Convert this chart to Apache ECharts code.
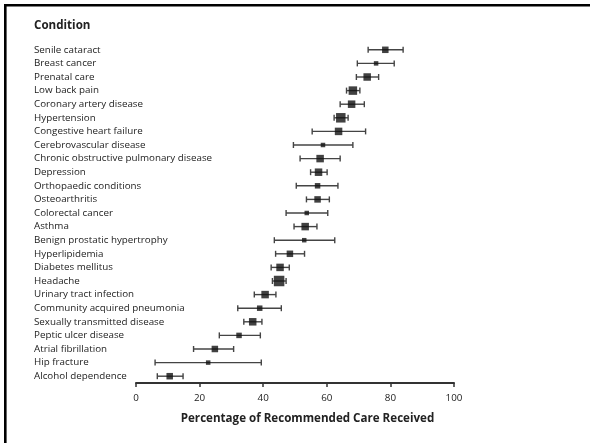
<!DOCTYPE html>
<html>
<head>
<meta charset="utf-8">
<script src="https://cdn.jsdelivr.net/npm/echarts@6/dist/echarts.min.js"></script>
<style>
  html, body { margin: 0; padding: 0; background: #fff; }
  #chart { width: 590px; height: 443px; }
</style>
</head>
<body>
<div id="chart"></div>
<script>
// ---- data ----
const categories = [
  "Senile cataract", "Breast cancer", "Prenatal care", "Low back pain",
  "Coronary artery disease", "Hypertension", "Congestive heart failure",
  "Cerebrovascular disease", "Chronic obstructive pulmonary disease", "Depression",
  "Orthopaedic conditions", "Osteoarthritis", "Colorectal cancer", "Asthma",
  "Benign prostatic hypertrophy", "Hyperlipidemia", "Diabetes mellitus", "Headache",
  "Urinary tract infection", "Community acquired pneumonia", "Sexually transmitted disease",
  "Peptic ulcer disease", "Atrial fibrillation", "Hip fracture", "Alcohol dependence"
];
const pointValues = [78.4, 75.5, 72.7, 68.2, 67.8, 64.4, 63.7, 58.8, 57.9, 57.4,
                     57.1, 57.1, 53.7, 53.2, 52.9, 48.4, 45.3, 45.0, 40.6, 38.9,
                     36.7, 32.4, 24.8, 22.7, 10.6];
const lowerValues = [73.0, 69.6, 69.3, 66.2, 64.2, 62.3, 55.4, 49.5, 51.6, 54.9,
                     50.4, 53.6, 47.2, 49.7, 43.5, 43.9, 42.5, 42.9, 37.2, 32.0,
                     33.9, 26.2, 18.1, 6.0, 6.7];
const upperValues = [84.0, 81.2, 76.3, 70.4, 71.8, 66.7, 72.2, 68.2, 64.2, 60.1,
                     63.5, 60.8, 60.3, 56.9, 62.5, 53.0, 48.2, 47.2, 44.0, 45.7,
                     39.6, 39.1, 30.7, 39.4, 14.8];
// relative precision weight of each estimate (drives the marker area)
const precisionWeight = [3, 1, 4, 5, 4, 6, 4, 1, 4, 4,
                         2, 3, 1, 4, 1, 3, 4, 7, 4, 2,
                         4, 2, 3, 1, 3];
const xTicks = [0, 20, 40, 60, 80, 100];

// ---- chart ----
const FONT = "Open Sans";
const chart = echarts.init(document.getElementById('chart'), null, { renderer: 'canvas' });

const whiskerData = categories.map((c, i) => [lowerValues[i], upperValues[i], i]);
const pointData = categories.map((c, i) => [pointValues[i], i, precisionWeight[i]]);

chart.setOption({
  animation: false,
  backgroundColor: '#fff',
  grid: { left: 136, right: 136, top: 43, bottom: 60, containLabel: false },
  xAxis: {
    type: 'value', min: 0, max: 100, interval: 20,
    axisLine: { show: true, lineStyle: { color: '#333', width: 2 } },
    axisTick: { show: true, length: 4, lineStyle: { color: '#333', width: 1.5 } },
    splitLine: { show: false },
    axisLabel: {
      color: '#222', fontFamily: FONT, fontSize: 9.8, margin: 10,
      customValues: xTicks
    }
  },
  yAxis: {
    type: 'category', data: categories, inverse: true,
    axisLine: { show: false }, axisTick: { show: false }, splitLine: { show: false },
    axisLabel: { color: '#222', fontFamily: FONT, fontSize: 9.8, align: 'left', margin: 102 }
  },
  series: [
    {
      type: 'custom',
      data: whiskerData,
      encode: { x: [0, 1], y: 2 },
      renderItem: function (params, api) {
        const idx = api.value(2);
        const a = api.coord([api.value(0), idx]);
        const b = api.coord([api.value(1), idx]);
        const h = 3;
        const style = { stroke: '#444', lineWidth: 1.4 };
        return {
          type: 'group',
          children: [
            { type: 'line', shape: { x1: a[0], y1: a[1], x2: b[0], y2: b[1] }, style: style },
            { type: 'line', shape: { x1: a[0], y1: a[1] - h, x2: a[0], y2: a[1] + h }, style: style },
            { type: 'line', shape: { x1: b[0], y1: b[1] - h, x2: b[0], y2: b[1] + h }, style: style }
          ]
        };
      },
      z: 2
    },
    {
      type: 'scatter',
      data: pointData,
      symbol: 'rect',
      symbolSize: function (v) { return 3.5 + v[2]; },
      itemStyle: { color: '#111' },
      z: 3
    }
  ],
  graphic: [
    {
      type: 'rect', silent: true,
      shape: { x: 5.3, y: 5.3, width: 800, height: 800 },
      style: { fill: 'none', stroke: '#000', lineWidth: 2.6 }
    },
    {
      type: 'text', left: 34, top: 20,
      style: { text: 'Condition', fill: '#222', font: 'bold 11.6px "Open Sans"' }
    },
    {
      type: 'text', x: 307.5, y: 419,
      style: { text: 'Percentage of Recommended Care Received', fill: '#222',
               font: 'bold 11.6px "Open Sans"', textAlign: 'center', textVerticalAlign: 'middle' }
    }
  ]
});
</script>
</body>
</html>
